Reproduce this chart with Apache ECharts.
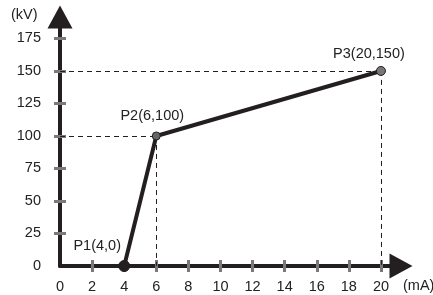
<!DOCTYPE html>
<html>
<head>
  <meta charset="UTF-8">
  <title>P1-P2-P3</title>
  <script src="https://cdn.jsdelivr.net/npm/echarts/dist/echarts.min.js"></script>
  <style>
    html, body { margin: 0; padding: 0; background: #fff; }
    #main { width: 433px; height: 295px; }
  </style>
</head>
<body>
  <div id="main"></div>
  <script>
    var names = ['P1(4,0)', 'P2(6,100)', 'P3(20,150)'];
    var currentMA = [4, 6, 20];
    var voltageKV = [0, 100, 150];
    var xTicks = [0, 2, 4, 6, 8, 10, 12, 14, 16, 18, 20];
    var yTicks = [0, 25, 50, 75, 100, 125, 150, 175];

    var chart = echarts.init(document.getElementById('main'));
    var font = 'Liberation Sans, Arial, sans-serif';
    var ink = '#231f20';
    var fs = 14.5;

    var labelOffsets = [[-27, -2], [-4, -3], [-12, 1]];
    var pointStyles = [
      { size: 11, color: ink, border: ink },
      { size: 8, color: '#666', border: ink },
      { size: 9, color: '#777', border: ink }
    ];

    var points = currentMA.map(function (x, i) {
      return {
        value: [x, voltageKV[i]],
        symbolSize: pointStyles[i].size,
        itemStyle: { color: pointStyles[i].color, borderColor: pointStyles[i].border, borderWidth: 1 },
        label: {
          show: true, position: 'top', offset: labelOffsets[i],
          formatter: names[i], color: '#222', fontSize: fs, fontFamily: font
        }
      };
    });

    // dashed guides from P2 and P3 to the axes
    var guides = [];
    [1, 2].forEach(function (i) {
      guides.push([{ coord: [0, voltageKV[i]] }, { coord: [currentMA[i], voltageKV[i]] }]);
      guides.push([{ coord: [currentMA[i], voltageKV[i]] }, { coord: [currentMA[i], 0] }]);
    });

    function xAxisOf(inside, main) {
      return {
        type: 'value', min: 0, max: 21.25, position: 'bottom',
        axisLine: main ? { show: true, lineStyle: { color: ink, width: 4 }, symbol: ['none', 'triangle'], symbolSize: [25, 23] } : { show: false },
        axisTick: { show: true, inside: inside, length: 6, customValues: xTicks.slice(1), lineStyle: { color: '#7a7a7a', width: 3 } },
        axisLabel: { show: main, customValues: xTicks, margin: 13, color: '#222', fontSize: fs, fontFamily: font },
        splitLine: { show: false }
      };
    }
    function yAxisOf(inside, main) {
      return {
        type: 'value', min: 0, max: 191.5, position: 'left',
        axisLine: main ? { show: true, lineStyle: { color: ink, width: 4 }, symbol: ['none', 'triangle'], symbolSize: [25, 23] } : { show: false },
        axisTick: { show: true, inside: inside, length: 6, customValues: yTicks.slice(1), lineStyle: { color: '#7a7a7a', width: 3 } },
        axisLabel: { show: main, customValues: yTicks, margin: 19, color: '#222', fontSize: fs, fontFamily: font },
        splitLine: { show: false }
      };
    }

    var option = {
      backgroundColor: '#fff',
      animation: false,
      grid: { left: 60, right: 32, top: 17, bottom: 29, containLabel: false },
      xAxis: [xAxisOf(false, true), xAxisOf(true, false)],
      yAxis: [yAxisOf(false, true), yAxisOf(true, false)],
      graphic: [
        { type: 'text', left: 11, top: 7, style: { text: '(kV)', fill: '#222', fontSize: fs, fontFamily: font } },
        { type: 'text', left: 403, top: 278, style: { text: '(mA)', fill: '#222', fontSize: fs, fontFamily: font } }
      ],
      series: [{
        type: 'line',
        data: points,
        symbol: 'circle',
        lineStyle: { color: ink, width: 4 },
        z: 5,
        markLine: {
          silent: true,
          symbol: 'none',
          label: { show: false },
          lineStyle: { color: ink, width: 1, type: [5, 4] },
          data: guides
        }
      }]
    };

    chart.setOption(option);
  </script>
</body>
</html>
